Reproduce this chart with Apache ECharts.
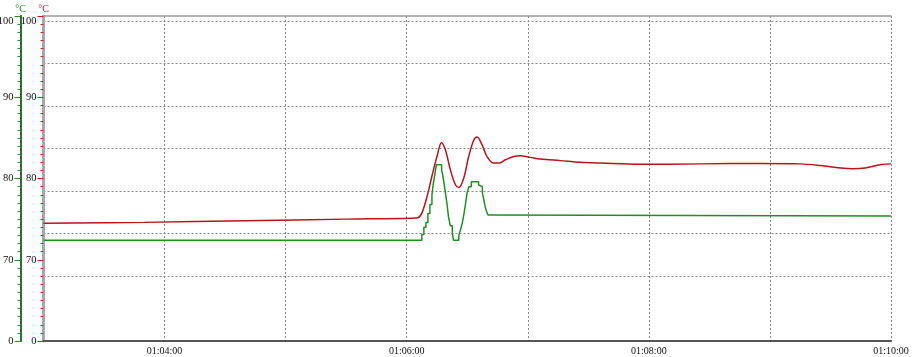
<!DOCTYPE html>
<html>
<head>
<meta charset="utf-8">
<script src="https://cdn.jsdelivr.net/npm/echarts@6/dist/echarts.min.js"></script>
<style>html,body{margin:0;padding:0;background:#fff}#c{width:913px;height:357px}</style>
</head>
<body>
<div id="c"></div>
<script>
// time in seconds after 01:00:00
const redTimes = [180, 230, 280, 330, 362, 365.8, 367.6, 370.1, 372.6, 375.1, 377.2, 379.2, 381.7, 384.2, 385.8, 388.2, 390.7, 393.2, 394.9, 397.4, 399.8, 403.1, 405.6, 408.9, 413.0, 416.3, 421.3, 426.2, 436.2, 446.1, 456.0, 475.8, 505.5, 535.2, 555.1, 565.0, 574.9, 580.8, 587.3, 594.7, 600];
const redTemps = [74.5, 74.6, 74.8, 75.0, 75.1, 75.2, 75.8, 77.8, 80.4, 82.8, 84.4, 83.5, 81.0, 79.2, 78.9, 80.0, 82.7, 84.7, 85.1, 84.1, 82.7, 81.9, 81.9, 82.3, 82.7, 82.8, 82.6, 82.4, 82.2, 82.0, 81.9, 81.75, 81.8, 81.85, 81.8, 81.6, 81.3, 81.2, 81.3, 81.7, 81.8];
const greenTimes = [180, 366, 367.5, 368.5, 369.5, 370.5, 371.5, 372.5, 373.2, 374, 374.7, 377.3, 377.7, 378.5, 379.2, 380, 380.7, 381.6, 382.6, 383.2, 385.8, 386.7, 387.6, 388.4, 389.1, 389.9, 390.8, 392, 395.6, 396.5, 397.5, 398.2, 398.8, 399.5, 400.3, 401.5, 600];
const greenTemps = [72.4, 72.4, 73.1, 74.0, 74.6, 75.7, 76.8, 78.0, 79.4, 80.6, 81.7, 81.0, 80.6, 79.4, 78.2, 76.8, 75.3, 74.2, 73.3, 72.4, 73.0, 73.7, 74.6, 75.7, 76.8, 78.2, 79.0, 79.6, 79.2, 79.0, 78.2, 77.4, 76.6, 76.0, 75.5, 75.4, 75.4];
const yTickLabels = ['0', '70', '80', '90', '100'];

// broken scale: 0..70 occupies one segment, then 10 degrees per segment
function ty(v) { return v < 70 ? v / 7 : v - 60; }
function fmtTime(s) {
  const h = Math.floor(s / 3600), m = Math.floor((s % 3600) / 60), sec = Math.round(s % 60);
  const p = n => String(n).padStart(2, '0');
  return p(h + 1) + ':' + p(m) + ':' + p(sec);
}
const font = 'Liberation Serif';
const chart = echarts.init(document.getElementById('c'), null, {renderer: 'canvas'});
function yAxisDef(color, lineColor, lineWidth, offset) {
  return {
    type: 'value', gridIndex: 0, position: 'left', offset: offset,
    min: 0, max: 40, interval: 10,
    name: '°C', nameLocation: 'end', nameGap: 2,
    nameTextStyle: {color: color, fontFamily: font, fontSize: 10, align: 'center'},
    axisLine: {show: true, onZero: false, lineStyle: {color: lineColor, width: lineWidth}},
    axisTick: {show: true, inside: false, length: 6, lineStyle: {color: color, width: 1}},
    minorTick: {show: true, splitNumber: 10, length: 3, lineStyle: {color: color, width: 1}},
    minorSplitLine: {show: false},
    splitLine: {show: false},
    axisLabel: {
      color: '#111', fontFamily: font, fontSize: 10.5, margin: 7,
      verticalAlignMaxLabel: 'top',
      formatter: v => yTickLabels[Math.round(v / 10)]
    }
  };
}
chart.setOption({
  animation: false,
  backgroundColor: '#fff',
  grid: [
    {left: 43.5, right: 22, top: 16, bottom: 16, containLabel: false, outerBoundsMode: 'none'},
    {left: 43.5, right: 22, top: 21, bottom: 81, containLabel: false, outerBoundsMode: 'none'}
  ],
  xAxis: [
    {
      type: 'value', gridIndex: 0, min: 180, max: 600, interval: 60,
      axisLine: {show: true, onZero: false, lineStyle: {color: '#555', width: 2}},
      axisTick: {show: false},
      splitLine: {show: true, lineStyle: {color: '#8a8a8a', type: [2, 2], width: 1}},
      axisLabel: {color: '#111', fontFamily: font, fontSize: 10, margin: 5,
        formatter: v => (v % 120 === 0 ? fmtTime(v) : '')}
    },
    {
      type: 'value', gridIndex: 0, position: 'top', min: 180, max: 600,
      axisLine: {show: true, onZero: false, lineStyle: {color: '#9a9a9a', width: 1.5}},
      axisTick: {show: false}, axisLabel: {show: false}, splitLine: {show: false}
    },
    {
      type: 'value', gridIndex: 1, min: 180, max: 600,
      axisLine: {show: false}, axisTick: {show: false}, axisLabel: {show: false}, splitLine: {show: false}
    }
  ],
  yAxis: [
    yAxisDef('#d8202a', '#a8a8a8', 3, 0),
    yAxisDef('#2a8f2a', '#175e17', 1.8, 23),
    {
      type: 'value', gridIndex: 1, min: 0, max: 6, interval: 1,
      axisLine: {show: false}, axisTick: {show: false}, axisLabel: {show: false},
      splitLine: {show: true, lineStyle: {color: '#8a8a8a', type: [2, 2], width: 1}}
    }
  ],
  series: [
    {
      name: 'green', type: 'line', xAxisIndex: 0, yAxisIndex: 1, step: 'end',
      showSymbol: false, symbol: 'none',
      lineStyle: {color: '#1f8f22', width: 1.5},
      data: greenTimes.map((t, i) => [t, ty(greenTemps[i])])
    },
    {
      name: 'red', type: 'line', xAxisIndex: 0, yAxisIndex: 0, smooth: 0.35,
      showSymbol: false, symbol: 'none',
      lineStyle: {color: '#b8141c', width: 1.5},
      data: redTimes.map((t, i) => [t, ty(redTemps[i])])
    }
  ]
});
</script>
</body>
</html>
